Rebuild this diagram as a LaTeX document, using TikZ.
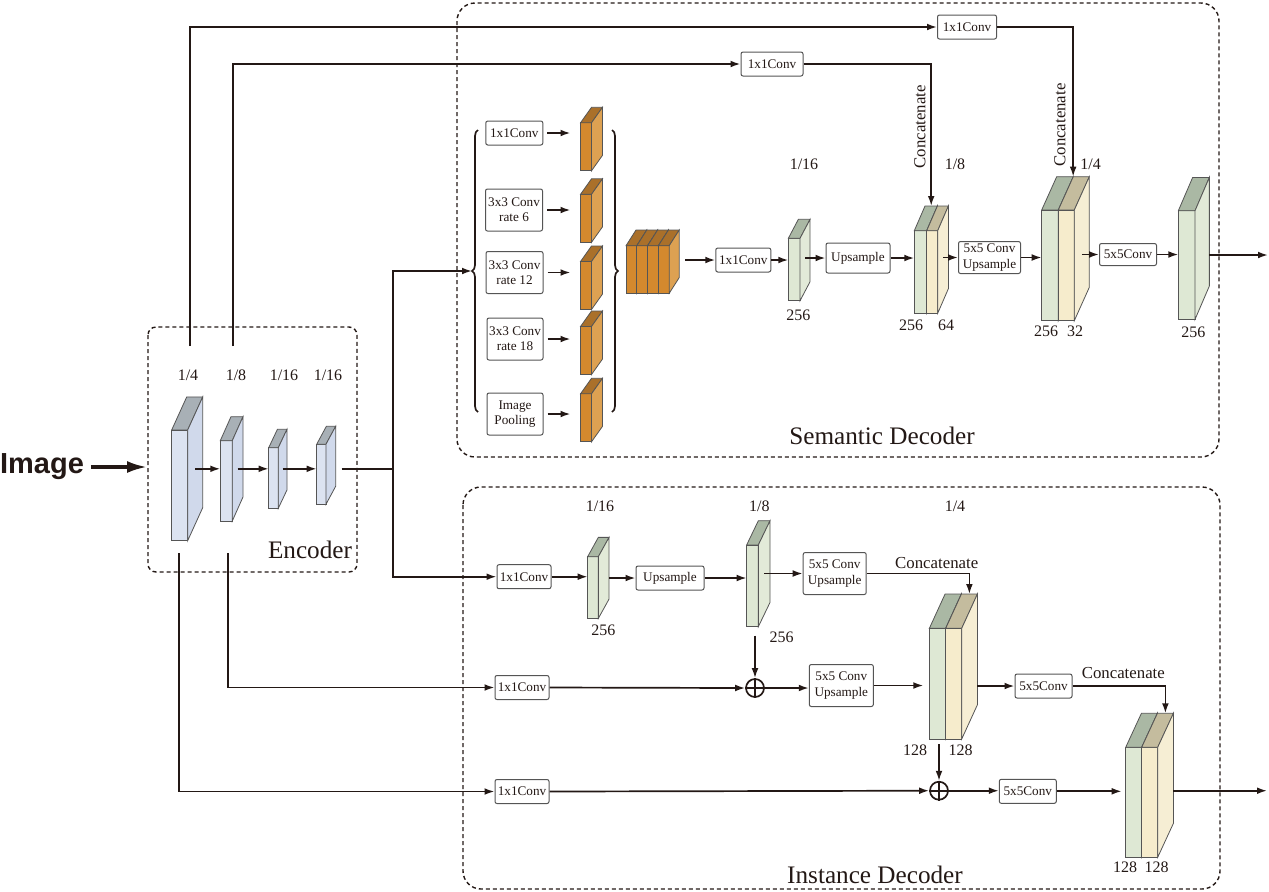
\documentclass[tikz,border=0pt]{standalone}
\usepackage{fontspec}
\setmainfont{Liberation Serif}
\newfontfamily\imgfont{Liberation Sans}
\usepackage{tikz}
\usetikzlibrary{arrows.meta,positioning,calc,decorations.pathreplacing}
\definecolor{inkblack}{RGB}{35,24,21}
\definecolor{edgegray}{RGB}{85,85,85}
\definecolor{encfront}{RGB}{220,227,241}
\definecolor{encside}{RGB}{208,217,235}
\definecolor{enctop}{RGB}{168,176,182}
\definecolor{orgfront}{RGB}{212,137,46}
\definecolor{orgside}{RGB}{221,161,82}
\definecolor{orgtop}{RGB}{170,112,42}
\definecolor{grnfront}{RGB}{222,232,212}
\definecolor{grnside}{RGB}{226,234,216}
\definecolor{grntop}{RGB}{170,184,164}
\definecolor{ylwfront}{RGB}{246,236,204}
\definecolor{ylwside}{RGB}{246,238,212}
\definecolor{ylwtop}{RGB}{196,188,158}
\tikzstyle{arrow} = [line width=0.85pt,-{Latex[length=5pt,width=3.4pt]},color=inkblack]
\tikzstyle{line} = [line width=0.85pt,color=inkblack]
\tikzstyle{convbox} = [draw=edgegray, rounded corners=1pt, fill=white, line width=0.5pt, inner sep=1pt, minimum width=28.5pt, minimum height=12pt, align=center, text=inkblack, font=\fontsize{6.6}{7.6}\selectfont]
\tikzstyle{twoline} = [minimum width=31.5pt, minimum height=21pt]
\tikzstyle{fmapface} = [draw=edgegray, line width=0.4pt, inner sep=0pt, outer sep=0pt]
\tikzstyle{scalelabel} = [text=inkblack, font=\fontsize{8}{9}\selectfont]
\tikzstyle{catlabel} = [text=inkblack, font=\fontsize{8.4}{10}\selectfont]
\tikzstyle{part} = [draw=inkblack, dash pattern=on 2pt off 1.5pt, line width=0.7pt, rounded corners=9pt]
\tikzstyle{partname} = [text=inkblack, font=\fontsize{12.6}{15}\selectfont]
\tikzstyle{addop} = [circle, draw=inkblack, line width=0.85pt, minimum size=9pt, inner sep=0pt]

% feature map block: name, centre of front face, w, h, depth x, depth y, front, top, side
\newcommand{\fmap}[9]{%
  \node[fmapface, fill=#7, minimum width=#3*0.5pt, minimum height=#4*0.5pt] (#1) at (#2) {};
  \filldraw[fill=#8, draw=edgegray, line width=0.4pt] (#1.north west) -- ++(#5,-#6) -- ++(#3,0) -- (#1.north east) -- cycle;
  \filldraw[fill=#9, draw=edgegray, line width=0.4pt] (#1.north east) -- ++(#5,-#6) -- ++(0,#4) -- (#1.south east) -- cycle;
  \coordinate (#1-out) at ($(#1.east)+(#5/2,-#6/2)$);
  \coordinate (#1-back) at ($(#1.east)+(#5,-#6/2)$);
  \coordinate (#1-top) at ($(#1.north)+(#5,-#6)$);
}

\begin{document}
\begin{tikzpicture}[x=0.5pt,y=-0.5pt]
\useasboundingbox (0,0) rectangle (1269,891);

% dashed parts
\draw[part] (457,3) rectangle (1219,457);
\draw[part] (463,487) rectangle (1220,889);
\draw[part, rounded corners=4pt] (148,327) rectangle (357,572);
\node[partname] (semname) at (882,436) {Semantic Decoder};
\node[partname] (insname) at (875,875) {Instance Decoder};
\node[partname] (encname) at (310,550) {Encoder};

% input
\node[text=inkblack, font=\imgfont\bfseries\fontsize{14.5}{16}\selectfont] (img) at (42,467) {Image};
\coordinate (encin) at (147,467);
\draw[line width=1.6pt, color=inkblack, -{Latex[length=10pt,width=6pt]}] (img.east |- encin) -- (encin);

% encoder
\fmap{e1}{179.7,485.3}{16}{110.7}{15}{33}{encfront}{enctop}{encside}
\fmap{e2}{226.3,480.8}{12}{80.3}{10.7}{24}{encfront}{enctop}{encside}
\fmap{e3}{273.5,478}{9.6}{60.6}{8.7}{18.4}{encfront}{enctop}{encside}
\fmap{e4}{321.3,474.3}{9.3}{60}{9.7}{18}{encfront}{enctop}{encside}
\node[scalelabel] (el1) at (188,375) {1/4};
\node[scalelabel] (el2) at (236,375) {1/8};
\node[scalelabel] (el3) at (284,375) {1/16};
\node[scalelabel] (el4) at (328,375) {1/16};
\draw[arrow] (e1-out) -- (e1-out -| e2.west);
\draw[arrow] (e2-out) -- (e2-out -| e3.west);
\draw[arrow] (e3-out) -- (e3-out -| e4.west);
\coordinate (split) at (393,469);
\draw[line] ([xshift=3pt]e4-back |- split) -- (split);

% ASPP
\coordinate (lbrace) at (472,271);
\draw[arrow] (split) |- (lbrace);
\draw[line, decorate, decoration={brace,amplitude=3pt}] (478,412) -- (478,130);
\draw[line, decorate, decoration={brace,amplitude=3pt}] (612,130) -- (612,412);
\node[convbox] (a1) at (514.3,133) {1x1Conv};
\node[convbox, twoline, minimum width=28.5pt] (a2) at (514,210) {3x3 Conv\\rate 6};
\node[convbox, twoline, minimum width=28.5pt] (a3) at (514.5,272.5) {3x3 Conv\\rate 12};
\node[convbox, twoline, minimum width=28pt] (a4) at (515,339) {3x3 Conv\\rate 18};
\node[convbox, twoline, minimum width=28pt] (a5) at (515,414) {Image\\Pooling};
\fmap{o1}{586,146.8}{11}{48}{11}{15.5}{orgfront}{orgtop}{orgside}
\fmap{o2}{586,218.3}{11}{48}{11}{15.5}{orgfront}{orgtop}{orgside}
\fmap{o3}{586,285.5}{11}{48}{11}{15.5}{orgfront}{orgtop}{orgside}
\fmap{o4}{586,350.5}{11}{48}{11}{15.5}{orgfront}{orgtop}{orgside}
\fmap{o5}{586,417.8}{11}{48}{11}{15.5}{orgfront}{orgtop}{orgside}
\draw[arrow, shorten <=2pt, shorten >=5pt] (a1.east) -- (a1.east -| o1.west);
\draw[arrow, shorten <=2pt, shorten >=5pt] (a2.east) -- (a2.east -| o2.west);
\draw[arrow, shorten <=2pt, shorten >=5pt] (a3.east) -- (a3.east -| o3.west);
\draw[arrow, shorten <=2pt, shorten >=5pt] (a4.east) -- (a4.east -| o4.west);
\draw[arrow, shorten <=2pt, shorten >=5pt] (a5.east) -- (a5.east -| o5.west);
\fmap{c1}{631.4,269.5}{10.8}{47.6}{10}{15.7}{orgfront}{orgtop}{orgside}
\fmap{c2}{642.2,269.5}{10.8}{47.6}{10}{15.7}{orgfront}{orgtop}{orgside}
\fmap{c3}{653,269.5}{10.8}{47.6}{10}{15.7}{orgfront}{orgtop}{orgside}
\fmap{c4}{663.8,269.5}{10.8}{47.6}{10}{15.7}{orgfront}{orgtop}{orgside}

% semantic decoder
\node[convbox, minimum width=27.5pt] (s1) at (743.3,260) {1x1Conv};
\draw[arrow, shorten <=3pt] (c4-back |- s1.west) -- (s1.west);
\fmap{sg}{794.2,269.5}{11.7}{62.4}{10}{19}{grnfront}{grntop}{grnside}
\draw[arrow] (s1.east) -- (s1.east -| sg.west);
\node[convbox, minimum width=32pt, minimum height=15pt] (s2) at (858,258) {Upsample};
\draw[arrow] (sg-out |- s2.west) -- (s2.west);
\fmap{s8a}{920.5,272}{12.4}{82.6}{10.7}{24.7}{grnfront}{grntop}{grnside}
\fmap{s8b}{932.2,272}{11}{82.6}{10.7}{24.7}{ylwfront}{ylwtop}{ylwside}
\draw[arrow] (s2.east) -- (s2.east -| s8a.west);
\node[convbox, minimum width=31pt, minimum height=16pt] (s3) at (989.5,257.5) {5x5 Conv\\Upsample};
\draw[arrow] (s8b-out |- s3.west) -- (s3.west);
\fmap{s4a}{1050,265.3}{16.6}{110.7}{15}{33.3}{grnfront}{grntop}{grnside}
\fmap{s4b}{1066.3,265.3}{16}{110.7}{15}{33.3}{ylwfront}{ylwtop}{ylwside}
\draw[arrow] (s3.east) -- (s3.east -| s4a.west);
\node[convbox, minimum height=11pt] (s4) at (1128,254.5) {5x5Conv};
\draw[arrow] (s4b-out |- s4.west) -- (s4.west);
\fmap{sf}{1186.7,265}{16.7}{108.6}{14.3}{33.3}{grnfront}{grntop}{grnside}
\draw[arrow] (s4.east) -- (s4.east -| sf.west);
\coordinate (semout) at (1268,255);
\draw[arrow] (sf-back |- semout) -- (semout);
\node[scalelabel] (sl1) at (804,164) {1/16};
\node[scalelabel] (sl2) at (798.3,315) {256};
\node[scalelabel] (sl3) at (955,164) {1/8};
\node[scalelabel] (sl4) at (911,325) {256};
\node[scalelabel] (sl5) at (946,325) {64};
\node[scalelabel] (sl6) at (1090.7,164) {1/4};
\node[scalelabel] (sl7) at (1046,331.7) {256};
\node[scalelabel] (sl8) at (1075,331.7) {32};
\node[scalelabel] (sl9) at (1193.3,332.3) {256};

% skip connections to the semantic decoder
\coordinate (skipa) at (190.3,346);
\coordinate (skipb) at (232.7,346);
\node[convbox, minimum width=29.5pt] (t1) at (967,27) {1x1Conv};
\node[convbox, minimum width=31pt] (t2) at (772,64) {1x1Conv};
\draw[arrow] (skipa) |- (t1.west);
\draw[arrow] (skipb) |- (t2.west);
\draw[arrow] (t1.east) -| ($(s4a-top)!0.5!(s4b-top)$);
\draw[arrow] (t2.east) -| (s8a-top);
\node[catlabel, rotate=90] (scat1) at (920,126.7) {Concatenate};
\node[catlabel, rotate=90] (scat2) at (1060,125) {Concatenate};

% instance decoder
\node[convbox, minimum width=27pt] (i1) at (524,576.7) {1x1Conv};
\draw[arrow] (split) |- (i1.west);
\fmap{ig1}{593,587.5}{10.7}{61.7}{10.7}{19.3}{grnfront}{grntop}{grnside}
\draw[arrow] (i1.east) -- (i1.east -| ig1.west);
\node[convbox, minimum width=34pt] (i2) at (670,578) {Upsample};
\draw[arrow] (ig1-back |- i2.west) -- (i2.west);
\fmap{ig2}{752.5,585.8}{11.7}{81.7}{11.7}{24.3}{grnfront}{grntop}{grnside}
\draw[arrow] (i2.east) -- (i2.east -| ig2.west);
\node[convbox, twoline] (i3) at (834.7,573.5) {5x5 Conv\\Upsample};
\draw[arrow] (ig2-out |- i3.west) -- (i3.west);
\fmap{ic1a}{937.5,683.7}{16.3}{110.7}{15.7}{34.3}{grnfront}{grntop}{grnside}
\fmap{ic1b}{953.7,683.7}{16}{110.7}{15.7}{34.3}{ylwfront}{ylwtop}{ylwside}
\draw[arrow] (i3.east) -| (ic1b-top);
\node[catlabel] (icat1) at (936.7,563.3) {Concatenate};

\node[convbox, minimum width=27pt] (i4) at (522,687.5) {1x1Conv};
\coordinate (skipd) at (228.3,553);
\draw[arrow] (skipd) |- (i4.west);
\node[addop] (add1) at (755,688) {};
\draw[line] (add1.north) -- (add1.south) (add1.west) -- (add1.east);
\draw[arrow, shorten <=4.5pt] (ig2.south -| add1) -- (add1.north);
\draw[arrow] (i4.east) -- (add1.west);
\node[convbox, twoline, minimum width=32pt] (i5) at (841.3,685.5) {5x5 Conv\\Upsample};
\draw[arrow] (add1.east) -- (add1.east -| i5.west);
\draw[arrow, shorten >=3pt] (i5.east) -- (i5.east -| ic1a.west);
\node[convbox] (i6) at (1043.5,686) {5x5Conv};
\draw[arrow] (ic1b-back |- i6.west) -- (i6.west);
\fmap{ic2a}{1133.7,802.3}{16}{110}{15.7}{34}{grnfront}{grntop}{grnside}
\fmap{ic2b}{1149.7,802.3}{16}{110}{15.7}{34}{ylwfront}{ylwtop}{ylwside}
\draw[arrow] (i6.east) -| (ic2b-top);
\node[catlabel] (icat2) at (1123.3,672.7) {Concatenate};

\node[convbox, minimum width=27pt] (i7) at (522,791.5) {1x1Conv};
\coordinate (skipc) at (179.3,553);
\draw[arrow] (skipc) |- (i7.west);
\node[addop] (add2) at (939,790.7) {};
\draw[line] (add2.north) -- (add2.south) (add2.west) -- (add2.east);
\draw[arrow, shorten <=2.5pt] (ic1a.south -| add2) -- (add2.north);
\draw[arrow] (i7.east) -- (add2.west);
\node[convbox] (i8) at (1027.8,791.3) {5x5Conv};
\draw[arrow] (add2.east) -- (add2.east -| i8.west);
\draw[arrow, shorten >=2pt] (i8.east) -- (i8.east -| ic2a.west);
\coordinate (insout) at (1267,790.7);
\draw[arrow] (ic2b-back |- insout) -- (insout);

\node[scalelabel] (il1) at (600,506) {1/16};
\node[scalelabel] (il2) at (603.3,630.7) {256};
\node[scalelabel] (il3) at (759.3,506) {1/8};
\node[scalelabel] (il4) at (781.7,637.3) {256};
\node[scalelabel] (il5) at (955,506) {1/4};
\node[scalelabel] (il6) at (915,750) {128};
\node[scalelabel] (il7) at (960.7,750) {128};
\node[scalelabel] (il8) at (1125,867.3) {128};
\node[scalelabel] (il9) at (1156.7,867.3) {128};
\end{tikzpicture}
\end{document}
